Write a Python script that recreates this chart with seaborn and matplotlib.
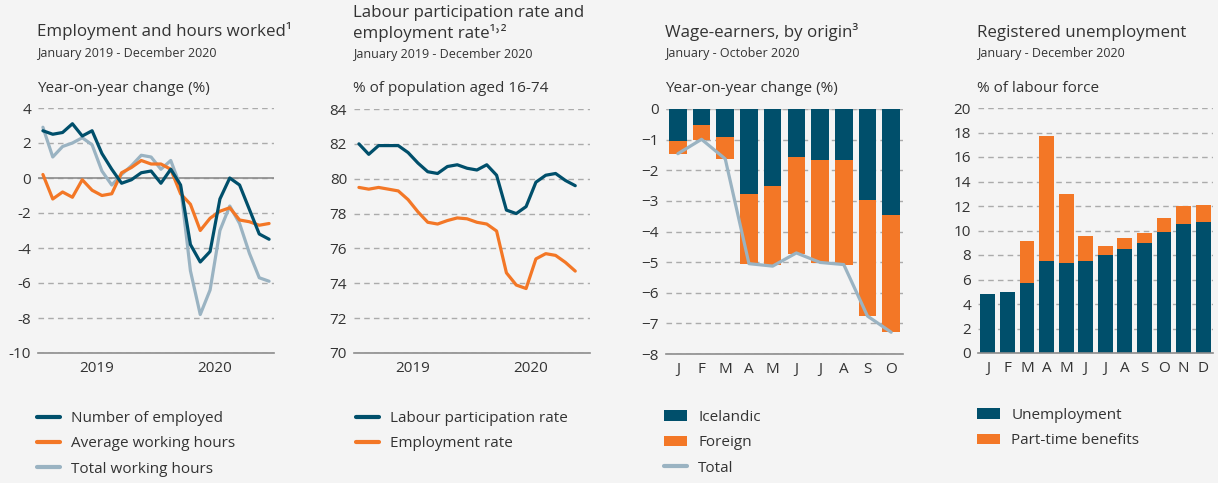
import numpy as np
import pandas as pd
import matplotlib
matplotlib.use("Agg")
import matplotlib.pyplot as plt
import seaborn as sns
from matplotlib.lines import Line2D
from matplotlib.patches import Patch

# ---------------- data ----------------
year_labels = ["2019", "2020"]

# Panel 1: Employment and hours worked (y/y %), Jan 2019 - Dec 2020
employed = [2.7, 2.5, 2.6, 3.1, 2.4, 2.7, 1.4, 0.5, -0.3, -0.1, 0.3, 0.4,
            -0.3, 0.5, -0.4, -3.8, -4.8, -4.2, -1.2, 0.0, -0.4, -1.8, -3.2, -3.5]
avg_hours = [0.2, -1.2, -0.8, -1.1, -0.1, -0.7, -1.0, -0.9, 0.3, 0.6, 1.0, 0.8,
             0.8, 0.5, -0.9, -1.5, -3.0, -2.3, -1.9, -1.7, -2.4, -2.5, -2.7, -2.6]
total_hours = [2.9, 1.2, 1.8, 2.0, 2.3, 1.9, 0.4, -0.4, 0.2, 0.7, 1.3, 1.2,
               0.5, 1.0, -0.5, -5.3, -7.8, -6.4, -3.0, -1.6, -2.6, -4.3, -5.7, -5.9]

# Panel 2: Labour participation and employment rate (%), Jan 2019 - Nov 2020
participation = [82.0, 81.4, 81.9, 81.9, 81.9, 81.5, 80.9, 80.4, 80.3, 80.7, 80.8, 80.6,
                 80.5, 80.8, 80.2, 78.2, 78.0, 78.4, 79.8, 80.2, 80.3, 79.9, 79.6]
employment_rate = [79.5, 79.4, 79.5, 79.4, 79.3, 78.8, 78.1, 77.5, 77.4, 77.6, 77.75, 77.7,
                   77.5, 77.4, 77.0, 74.6, 73.9, 73.7, 75.4, 75.7, 75.6, 75.2, 74.7]

# Panel 3: Wage-earners by origin (y/y %), Jan - Oct 2020
wage_months = ["J", "F", "M", "A", "M", "J", "J", "A", "S", "O"]
icelandic = [-1.04, -0.52, -0.91, -2.77, -2.51, -1.57, -1.66, -1.66, -2.97, -3.46]
foreign = [-0.42, -0.49, -0.72, -2.29, -2.60, -3.15, -3.36, -3.42, -3.79, -3.82]
wage_total = [-1.46, -0.99, -1.63, -5.05, -5.13, -4.70, -5.01, -5.08, -6.76, -7.29]

# Panel 4: Registered unemployment (% of labour force), Jan - Dec 2020
unemp_months = ["J", "F", "M", "A", "M", "J", "J", "A", "S", "O", "N", "D"]
unemployment = [4.84, 5.01, 5.74, 7.54, 7.37, 7.54, 7.97, 8.52, 9.01, 9.90, 10.56, 10.72]
parttime = [0.0, 0.0, 3.43, 10.20, 5.64, 2.04, 0.79, 0.89, 0.81, 1.15, 1.47, 1.39]

# ---------------- style ----------------
DARK = "#004F6B"
ORANGE = "#F37726"
LIGHT = "#9AB3C2"
BG = "#F4F4F4"
TXT = "#333333"
GRID = "#ABABAB"
AXIS = "#8C8C8C"

sns.set_style("white", {"axes.facecolor": BG, "figure.facecolor": BG})
plt.rcParams["font.family"] = ["Open Sans", "DejaVu Sans"]
plt.rcParams["text.color"] = TXT

W, H = 1218, 483
fig = plt.figure(figsize=(W / 100, H / 100), dpi=100, facecolor=BG)


def px_axes(l, t, r, b):
    return fig.add_axes([l / W, 1 - b / H, (r - l) / W, (b - t) / H])


def ftext(x, y, s, size, **kw):
    fig.text(x / W, 1 - y / H, s, fontsize=size, color=TXT, va="baseline", ha="left", **kw)


def style_axes(ax, yticks, ylim):
    ax.set_facecolor(BG)
    for s in ["top", "right", "left"]:
        ax.spines[s].set_visible(False)
    ax.spines["bottom"].set_color(AXIS)
    ax.spines["bottom"].set_linewidth(1.2)
    ax.set_ylim(*ylim)
    ax.set_yticks(yticks)
    ax.yaxis.grid(True, linestyle=(0, (4, 3)), color=GRID, linewidth=1)
    ax.xaxis.grid(False)
    ax.set_axisbelow(True)
    ax.tick_params(axis="y", length=0, pad=5, labelsize=11, labelcolor=TXT)
    ax.tick_params(axis="x", which="major", length=0, pad=6, labelsize=11, labelcolor=TXT)
    ax.tick_params(axis="x", which="minor", length=6, width=1.2, color=AXIS, direction="out")
    ax.set_xlabel("")
    ax.set_ylabel("")


def legend(ax, handles, labels, x, y):
    ax.legend(handles, labels, loc="upper left", bbox_to_anchor=(x / W, 1 - y / H),
              bbox_transform=fig.transFigure, frameon=False, fontsize=11,
              handlelength=1.5, handletextpad=0.75, labelspacing=0.68,
              borderpad=0, borderaxespad=0, labelcolor=TXT)


LW = 2.3

# ---------------- Panel 1 ----------------
ax1 = px_axes(38, 108, 274, 353)
x24 = np.arange(len(employed)) + 0.5
sns.lineplot(x=x24, y=total_hours, color=LIGHT, lw=LW, ax=ax1)
sns.lineplot(x=x24, y=avg_hours, color=ORANGE, lw=LW, ax=ax1)
sns.lineplot(x=x24, y=employed, color=DARK, lw=LW, ax=ax1)
ax1.axhline(0, color=AXIS, lw=1.2, zorder=1.5)
style_axes(ax1, np.arange(-10, 5, 2), (-10, 4))
ax1.set_xlim(0, 24)
ax1.set_xticks([6, 18])
ax1.set_xticklabels(year_labels)
ax1.set_xticks([0, 12, 24], minor=True)
ax1.set_yticklabels([str(v) for v in range(-10, 5, 2)])
legend(ax1,
       [Line2D([], [], color=DARK, lw=3), Line2D([], [], color=ORANGE, lw=3),
        Line2D([], [], color=LIGHT, lw=3)],
       ["Number of employed", "Average working hours", "Total working hours"], 37, 411)
ftext(37, 36, "Employment and hours worked¹", 12.2)
ftext(37, 57.5, "January 2019 - December 2020", 9)
ftext(37, 92, "Year-on-year change (%)", 11)

# ---------------- Panel 2 ----------------
ax2 = px_axes(354, 109, 590, 353)
x23 = np.arange(len(participation)) + 0.5
sns.lineplot(x=x23, y=employment_rate, color=ORANGE, lw=LW, ax=ax2)
sns.lineplot(x=x23, y=participation, color=DARK, lw=LW, ax=ax2)
style_axes(ax2, np.arange(70, 85, 2), (70, 84))
ax2.set_xlim(0, 24)
ax2.set_xticks([6, 18])
ax2.set_xticklabels(year_labels)
ax2.set_xticks([0, 12, 24], minor=True)
legend(ax2,
       [Line2D([], [], color=DARK, lw=3), Line2D([], [], color=ORANGE, lw=3)],
       ["Labour participation rate", "Employment rate"], 356, 411)
ftext(353, 17, "Labour participation rate and", 12.2)
ftext(353, 38.5, "employment rate¹˒²", 12.2)
ftext(353, 58, "January 2019 - December 2020", 9)
ftext(353, 92, "% of population aged 16-74", 11)

# ---------------- Panel 3 ----------------
ax3 = px_axes(666, 109, 903, 354)
n3 = len(wage_months)
pos3 = np.arange(n3)
wage_stack = np.array(icelandic) + np.array(foreign)
sns.barplot(x=pos3, y=wage_stack, color=ORANGE, saturation=1, width=0.74,
            errorbar=None, linewidth=0, ax=ax3)
sns.barplot(x=pos3, y=icelandic, color=DARK, saturation=1, width=0.74,
            errorbar=None, linewidth=0, ax=ax3)
sns.lineplot(x=pos3, y=wage_total, color=LIGHT, lw=LW, ax=ax3)
ax3.axhline(0, color="#C8C8C8", lw=1, zorder=0.5)
style_axes(ax3, np.arange(-8, 1, 1), (-8, 0))
ax3.set_xlim(-0.5, n3 - 0.5)
ax3.set_xticks(pos3)
ax3.set_xticklabels(wage_months)
ax3.set_xticks(np.arange(n3 + 1) - 0.5, minor=True)
legend(ax3,
       [Patch(facecolor=DARK, lw=0), Patch(facecolor=ORANGE, lw=0),
        Line2D([], [], color=LIGHT, lw=3)],
       ["Icelandic", "Foreign", "Total"], 664, 410)
ftext(665, 37, "Wage-earners, by origin³", 12.2)
ftext(665, 57.5, "January - October 2020", 9)
ftext(665, 92, "Year-on-year change (%)", 11)

# ---------------- Panel 4 ----------------
ax4 = px_axes(978, 108, 1213, 353)
n4 = len(unemp_months)
pos4 = np.arange(n4)
unemp_stack = np.array(unemployment) + np.array(parttime)
sns.barplot(x=pos4, y=unemp_stack, color=ORANGE, saturation=1, width=0.76,
            errorbar=None, linewidth=0, ax=ax4)
sns.barplot(x=pos4, y=unemployment, color=DARK, saturation=1, width=0.76,
            errorbar=None, linewidth=0, ax=ax4)
style_axes(ax4, np.arange(0, 21, 2), (0, 20))
ax4.set_xlim(-0.5, n4 - 0.5)
ax4.set_xticks(pos4)
ax4.set_xticklabels(unemp_months)
ax4.set_xticks(np.arange(n4 + 1) - 0.5, minor=True)
legend(ax4,
       [Patch(facecolor=DARK, lw=0), Patch(facecolor=ORANGE, lw=0)],
       ["Unemployment", "Part-time benefits"], 977, 408)
ftext(977, 37, "Registered unemployment", 12.2)
ftext(977, 57.5, "January - December 2020", 9)
ftext(977, 92, "% of labour force", 11)

fig.savefig("out.png", dpi=100, facecolor=BG)
